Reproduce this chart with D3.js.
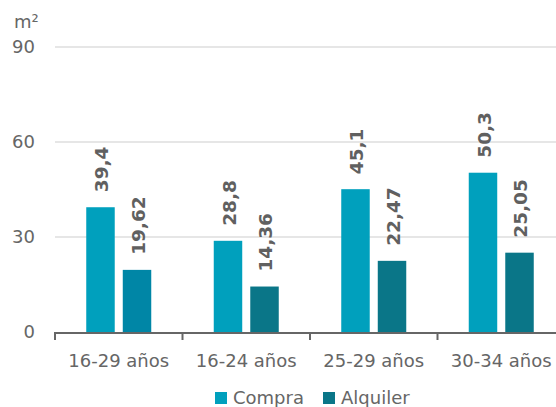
<!DOCTYPE html>
<html><head><meta charset="utf-8">
<script src="https://cdn.jsdelivr.net/npm/d3@7"></script>
<style>
html,body{margin:0;padding:0;background:#fff;}
svg{display:block;font-family:"DejaVu Sans",sans-serif;}
</style></head>
<body>
<svg id="c" width="556" height="407"></svg>
<script>
const categories = ["16-29 años","16-24 años","25-29 años","30-34 años"];
const seriesNames = ["Compra","Alquiler"];
const compra = [39.4, 28.8, 45.1, 50.3];
const alquiler = [19.62, 14.36, 22.47, 25.05];
const labelsCompra = ["39,4","28,8","45,1","50,3"];
const labelsAlquiler = ["19,62","14,36","22,47","25,05"];
const yTicks = [0, 30, 60, 90];
const unitLabel = "m²";

const colCompra = "#00a0bd";
const colAlquiler = "#0a7688";
const colAlquilerFirst = "#0086a6";
const textCol = "#666666";

const svg = d3.select("#c");
const x0 = d3.scaleBand().domain(categories).range([55, 565]).paddingInner(0).paddingOuter(0);
const groupW = 65;
const x1 = d3.scaleBand().domain(seriesNames).range([0, groupW]).paddingInner(0.22);
const y = d3.scaleLinear().domain([0, 90]).range([332, 47]);

// gridlines
svg.append("g").selectAll("line").data(yTicks.filter(d => d > 0)).join("line")
  .attr("x1", 55).attr("x2", 556)
  .attr("y1", d => y(d)).attr("y2", d => y(d))
  .attr("stroke", "#dedede").attr("stroke-width", 1.5);

// y tick labels
svg.append("g").selectAll("text").data(yTicks).join("text")
  .attr("x", 35).attr("y", d => y(d)).attr("dy", "0.36em")
  .attr("text-anchor", "end").attr("font-size", 18).attr("fill", textCol)
  .text(d => d);

svg.append("text").attr("x", 14).attr("y", 28).attr("font-size", 18)
  .attr("fill", textCol).text(unitLabel);

const data = [];
categories.forEach((c, i) => {
  data.push({cat: c, s: "Compra", v: compra[i], lab: labelsCompra[i], col: colCompra});
  data.push({cat: c, s: "Alquiler", v: alquiler[i], lab: labelsAlquiler[i], col: i === 0 ? colAlquilerFirst : colAlquiler});
});
const off = (x0.bandwidth() - groupW) / 2;
const bx = d => x0(d.cat) + off + x1(d.s);

svg.append("g").selectAll("rect").data(data).join("rect")
  .attr("x", bx).attr("width", x1.bandwidth())
  .attr("y", d => y(d.v)).attr("height", d => y(0) - y(d.v))
  .attr("fill", d => d.col);

svg.append("g").selectAll("text").data(data).join("text")
  .attr("transform", d => `translate(${bx(d) + x1.bandwidth() / 2 + 1},${y(d.v) - 15}) rotate(-90)`)
  .attr("dy", "0.36em").attr("text-anchor", "start")
  .attr("font-size", 18.5).attr("font-weight", "bold").attr("fill", "#606060")
  .text(d => d.lab);

// x axis
svg.append("line").attr("x1", 55).attr("x2", 556).attr("y1", y(0) + 1).attr("y2", y(0) + 1)
  .attr("stroke", "#666").attr("stroke-width", 2);
const bounds = categories.map(c => x0(c));
svg.append("g").selectAll("line").data(bounds).join("line")
  .attr("x1", d => d).attr("x2", d => d)
  .attr("y1", y(0)).attr("y2", y(0) + 8)
  .attr("stroke", "#666").attr("stroke-width", 2);

svg.append("g").selectAll("text").data(categories).join("text")
  .attr("x", d => x0(d) + x0.bandwidth() / 2).attr("y", 367)
  .attr("text-anchor", "middle").attr("font-size", 18).attr("fill", textCol)
  .text(d => d);

// legend
const legend = [{n: "Compra", c: colCompra, x: 215}, {n: "Alquiler", c: colAlquiler, x: 323}];
const lg = svg.append("g").selectAll("g").data(legend).join("g");
lg.append("rect").attr("x", d => d.x).attr("y", 392).attr("width", 12).attr("height", 12).attr("fill", d => d.c);
lg.append("text").attr("x", d => d.x + 18).attr("y", 404).attr("font-size", 18).attr("fill", textCol).text(d => d.n);
</script>
</body></html>
